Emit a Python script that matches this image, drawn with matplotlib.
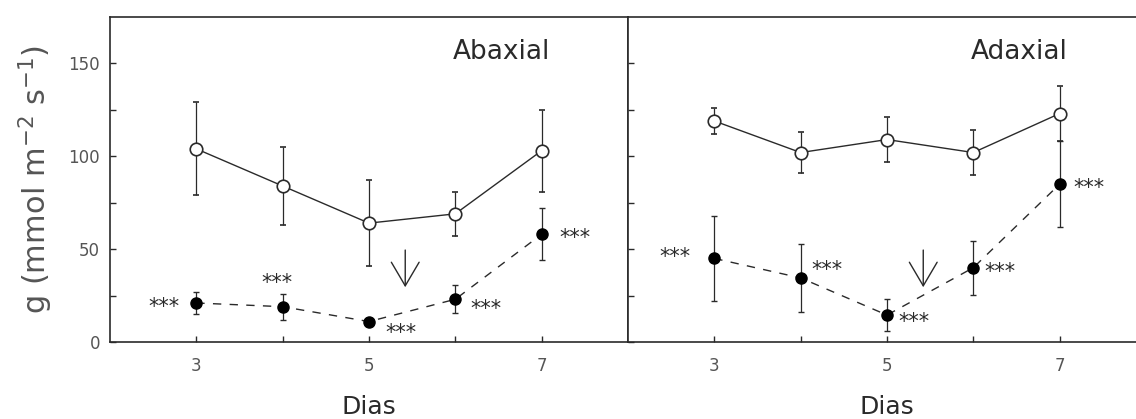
import matplotlib
matplotlib.use("Agg")
import matplotlib.pyplot as plt

# dias de medida
dias = [3, 4, 5, 6, 7]

# condutância estomática (mmol m-2 s-1), média e erro
abaxial_controle = [104, 84, 64, 69, 103]
abaxial_controle_err = [25, 21, 23, 12, 22]
abaxial_estresse = [21, 19, 11, 23, 58]
abaxial_estresse_err = [6, 7, 2, 7.5, 14]

adaxial_controle = [119, 102, 109, 102, 123]
adaxial_controle_err = [7, 11, 12, 12, 15]
adaxial_estresse = [45, 34.5, 14.5, 40, 85]
adaxial_estresse_err = [23, 18.5, 8.5, 14.5, 23]

signif = ["***", "***", "***", "***", "***"]

# posição dos asteriscos em relação a cada ponto (pontos tipográficos)
abaxial_off = [(-12, -3), (-4, 17), (12, -8), (11, -7), (13, -3)]
abaxial_ha = ["right", "center", "left", "left", "left"]
adaxial_off = [(-17, 1), (8, 6), (8, -5), (8, -3), (10, -3)]
adaxial_ha = ["right", "left", "left", "left", "left"]

seta_x = 5.42
seta_topo, seta_base = 51, 28

cor = "#2a2a2a"
cinza = "#555555"

fig = plt.figure(figsize=(11.36, 4.19), dpi=100)
ax1 = fig.add_axes([0.0968, 0.1838, 0.456, 0.7757])
ax2 = fig.add_axes([0.5528, 0.1838, 0.456, 0.7757])


def painel(ax, ctrl, ctrl_err, est, est_err, offs, has, titulo):
    ax.errorbar(dias, ctrl, yerr=ctrl_err, color=cor, lw=1.0, elinewidth=0.9,
                capsize=2, marker="o", ms=9, mfc="white", mec=cor, mew=1.2,
                zorder=3)
    ax.errorbar(dias, est, yerr=est_err, color=cor, lw=1.0, elinewidth=0.9,
                capsize=2, marker="o", ms=8, mfc="black", mec="black",
                ls=(0, (6, 6)), zorder=3)
    for x, y, s, o, h in zip(dias, est, signif, offs, has):
        ax.annotate(s, (x, y), xytext=o, textcoords="offset points",
                    ha=h, va="center", fontsize=15, color=cor)
    ax.annotate("", xy=(seta_x, seta_base), xytext=(seta_x, seta_topo),
                arrowprops=dict(arrowstyle="->,head_length=1.7,head_width=1.0",
                                color=cor, lw=1.0))
    ax.text(6.53, 156, titulo, ha="center", va="center", fontsize=19,
            color=cor)
    ax.set_xlim(2, 8)
    ax.set_ylim(0, 175)
    ax.set_xticks([3, 4, 5, 6, 7])
    ax.set_xticklabels(["3", "", "5", "", "7"])
    ax.set_yticks([0, 25, 50, 75, 100, 125, 150])
    ax.tick_params(direction="in", length=4, width=1, colors=cor,
                   labelcolor=cinza, labelsize=12)
    ax.tick_params(axis="x", pad=11)
    ax.set_xlabel("Dias", fontsize=18, color=cor, labelpad=14)
    for sp in ax.spines.values():
        sp.set_color(cor)
        sp.set_linewidth(1.2)


painel(ax1, abaxial_controle, abaxial_controle_err, abaxial_estresse,
       abaxial_estresse_err, abaxial_off, abaxial_ha, "Abaxial")
painel(ax2, adaxial_controle, adaxial_controle_err, adaxial_estresse,
       adaxial_estresse_err, adaxial_off, adaxial_ha, "Adaxial")

ax1.set_yticklabels(["0", "", "50", "", "100", "", "150"])
ax1.tick_params(axis="y", pad=7)
ax1.set_ylabel("g (mmol m$^{-2}$ s$^{-1}$)", fontsize=22, color=cinza,
               labelpad=10)
ax2.set_yticklabels([])
ax2.spines["right"].set_visible(False)

fig.savefig("out.png", dpi=100)
